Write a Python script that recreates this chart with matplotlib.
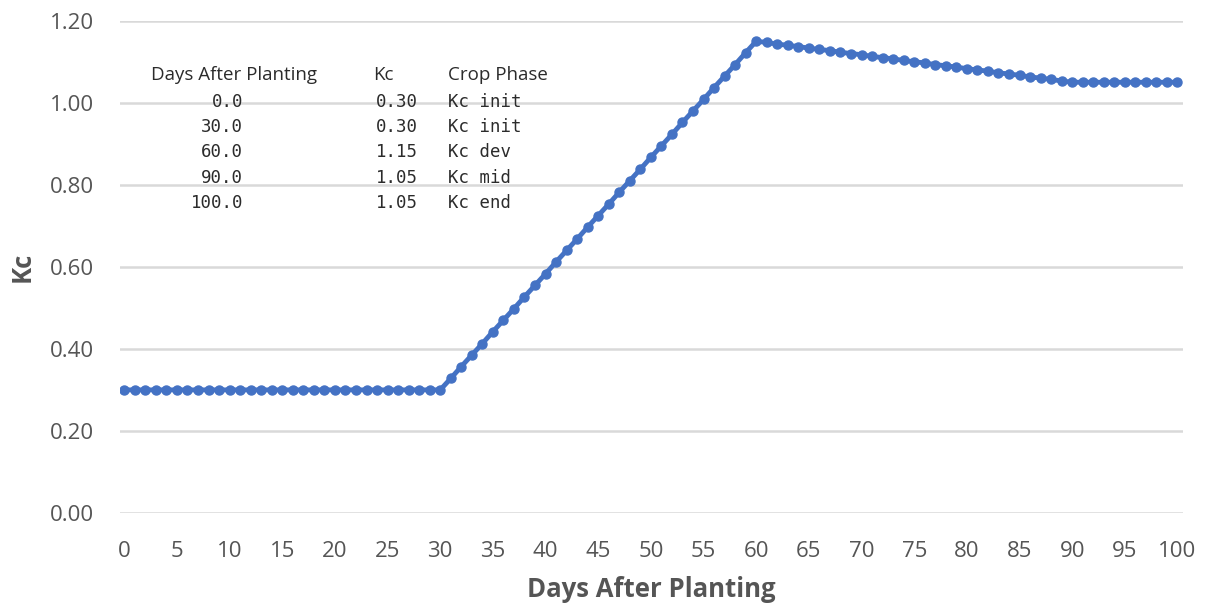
import matplotlib
matplotlib.use('Agg')
from matplotlib import pyplot as plt

days = list(range(0, 101))
kc = [0.300] * 31 + [
    0.328, 0.357, 0.385, 0.413, 0.442, 0.470, 0.498, 0.527, 0.555, 0.583,
    0.612, 0.640, 0.668, 0.697, 0.725, 0.753, 0.782, 0.810, 0.838, 0.867,
    0.895, 0.923, 0.952, 0.980, 1.008, 1.037, 1.065, 1.093, 1.122, 1.150,
    1.147, 1.143, 1.140, 1.137, 1.133, 1.130, 1.127, 1.123, 1.120, 1.117,
    1.113, 1.110, 1.107, 1.103, 1.100, 1.097, 1.093, 1.090, 1.087, 1.083,
    1.080, 1.077, 1.073, 1.070, 1.067, 1.063, 1.060, 1.057, 1.053, 1.050,
] + [1.050] * 10

table_days = ['0.0', '30.0', '60.0', '90.0', '100.0']
table_kc = ['0.30', '0.30', '1.15', '1.05', '1.05']
table_phase = ['Kc init', 'Kc init', 'Kc dev', 'Kc mid', 'Kc end']

plt.rcParams['font.family'] = ['Open Sans', 'DejaVu Sans']
grey = '#555555'
blue = '#4472C4'
ink = '#2b2b2b'

fig = plt.figure(figsize=(12.09, 6.07), dpi=100)
ax = fig.add_axes([0.0993, 0.1549, 0.879, 0.811])

ax.plot(days, kc, color=blue, linewidth=3.5, marker='o', markersize=6.5, zorder=3)

ax.set_xlim(-0.4, 100.5)
ax.set_ylim(0, 1.2)
ax.set_xticks(range(0, 101, 5))
ax.set_yticks([0, 0.2, 0.4, 0.6, 0.8, 1.0, 1.2])
ax.set_yticklabels(['%.2f' % v for v in ax.get_yticks()])
ax.yaxis.grid(True, color='#D9D9D9', linewidth=1.8)
ax.set_axisbelow(True)
for s in ax.spines.values():
    s.set_visible(False)
ax.tick_params(axis='both', length=0, labelsize=16, labelcolor=grey)
ax.tick_params(axis='y', pad=19)
ax.tick_params(axis='x', pad=20)

ax.set_xlabel('Days After Planting', fontsize=18.5, fontweight='bold', color=grey, labelpad=10)
ax.set_ylabel('Kc', fontsize=18.5, fontweight='bold', color=grey, labelpad=10)

# the text table inside the plot
fig.text(234 / 1209, 1 - 75 / 607, 'Days After Planting', ha='center', va='center',
         fontsize=13.5, color=ink)
fig.text(383 / 1209, 1 - 75 / 607, 'Kc', ha='center', va='center',
         fontsize=13.5, color=ink)
fig.text(448 / 1209, 1 - 75 / 607, 'Crop Phase', ha='left', va='center',
         fontsize=13.5, color=ink)
for i in range(len(table_days)):
    yy = 1 - (102 + i * 25.2) / 607
    fig.text(243 / 1209, yy, table_days[i], ha='right', va='center',
             family='DejaVu Sans Mono', fontsize=12.5, color=ink)
    fig.text(418 / 1209, yy, table_kc[i], ha='right', va='center',
             family='DejaVu Sans Mono', fontsize=12.5, color=ink)
    fig.text(448 / 1209, yy, table_phase[i], ha='left', va='center',
             family='DejaVu Sans Mono', fontsize=12.5, color=ink)

plt.savefig('out.png', dpi=100)
